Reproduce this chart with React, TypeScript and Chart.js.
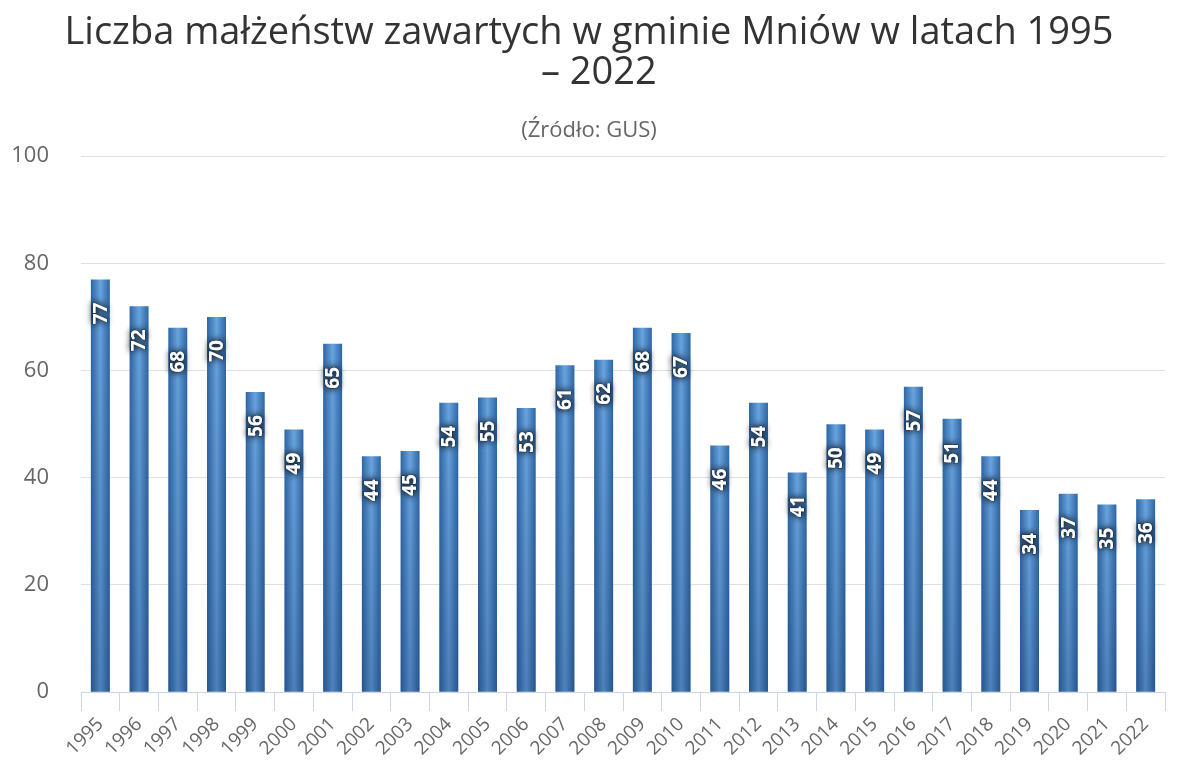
import React, { useEffect, useRef } from 'react';
import { Chart, registerables } from 'chart.js';

Chart.register(...registerables);

const years = ['1995', '1996', '1997', '1998', '1999', '2000', '2001', '2002', '2003', '2004', '2005', '2006', '2007', '2008', '2009', '2010', '2011', '2012', '2013', '2014', '2015', '2016', '2017', '2018', '2019', '2020', '2021', '2022'];
const marriages = [77, 72, 68, 70, 56, 49, 65, 44, 45, 54, 55, 53, 61, 62, 68, 67, 46, 54, 41, 50, 49, 57, 51, 44, 34, 37, 35, 36];
const yTickValues = [0, 20, 40, 60, 80, 100];
const titleLines = ['Liczba małżeństw zawartych w gminie Mniów w latach 1995', '\u00a0\u00a0– 2022'];
const subtitleText = '(Źródło: GUS)';

const FONT = "'Open Sans', 'DejaVu Sans', sans-serif";
const BAR_PCT = 0.49;

const barEffects = {
  id: 'barEffects',
  afterDatasetsDraw(chart: any) {
    const ctx = chart.ctx;
    const meta = chart.getDatasetMeta(0);
    const ds = chart.data.datasets[0];
    meta.data.forEach((el: any, i: number) => {
      const { x, y, base, width } = el.getProps(['x', 'y', 'base', 'width'], true);
      const left = x - width / 2;
      const g = ctx.createLinearGradient(0, y, 0, base);
      g.addColorStop(0, 'rgba(10,40,90,0.0)');
      g.addColorStop(1, 'rgba(10,40,90,0.28)');
      ctx.save();
      ctx.fillStyle = g;
      ctx.fillRect(left, y, width, base - y);
      ctx.restore();
      const v = String(ds.data[i]);
      ctx.save();
      ctx.translate(x, y + 34);
      ctx.rotate(-Math.PI / 2);
      ctx.font = `bold 19px ${FONT}`;
      ctx.textAlign = 'center';
      ctx.textBaseline = 'middle';
      ctx.shadowColor = 'rgba(0,0,0,0.85)';
      ctx.shadowBlur = 7;
      ctx.fillStyle = '#ffffff';
      ctx.fillText(v, 0, 1);
      ctx.fillText(v, 0, 1);
      ctx.shadowBlur = 0;
      ctx.lineWidth = 1.2;
      ctx.strokeStyle = 'rgba(20,40,70,0.6)';
      ctx.strokeText(v, 0, 1);
      ctx.fillText(v, 0, 1);
      ctx.restore();
    });
  },
};

export default function App() {
  const ref = useRef<HTMLCanvasElement>(null);
  useEffect(() => {
    document.body.style.margin = '0';
    const canvas = ref.current!;
    const chart = new Chart(canvas, {
      type: 'bar',
      data: {
        labels: years,
        datasets: [
          {
            data: marriages,
            barPercentage: BAR_PCT,
            categoryPercentage: 1,
            backgroundColor: (c: any) => {
              const ch = c.chart;
              const xs = ch.scales && ch.scales.x;
              if (!ch.chartArea || !xs || c.dataIndex === undefined) return '#3f7cbf';
              const cx = xs.getPixelForValue(c.dataIndex);
              const half = (xs.width / years.length) * BAR_PCT / 2;
              const g = ch.ctx.createLinearGradient(cx - half, 0, cx + half, 0);
              g.addColorStop(0, '#2d66a5');
              g.addColorStop(0.5, '#6aa4de');
              g.addColorStop(1, '#2d66a5');
              return g;
            },
            borderWidth: 0,
          },
        ],
      },
      options: {
        animation: false,
        responsive: false,
        maintainAspectRatio: false,
        layout: { padding: { left: 13, right: 15, top: 0, bottom: 0 } },
        plugins: {
          legend: { display: false },
          tooltip: { enabled: false },
          title: {
            display: true,
            text: titleLines,
            color: '#333333',
            font: { family: FONT, size: 38, weight: 'normal', lineHeight: 1.05 },
            padding: { top: 13, bottom: 25 },
          },
          subtitle: {
            display: true,
            text: subtitleText,
            color: '#666666',
            font: { family: FONT, size: 22, weight: 'normal' },
            padding: { top: 0, bottom: 12 },
          },
        },
        scales: {
          x: {
            offset: true,
            grid: {
              display: true,
              offset: true,
              drawOnChartArea: false,
              color: '#ccd6eb',
              tickLength: 19,
              tickColor: '#ccd6eb',
            },
            border: { display: true, color: '#ccd6eb', width: 1 },
            ticks: {
              color: '#666666',
              font: { family: FONT, size: 19 },
              maxRotation: 45,
              minRotation: 45,
              autoSkip: false,
              padding: 2,
            },
          },
          y: {
            min: 0,
            max: 100,
            afterBuildTicks: (axis: any) => {
              axis.ticks = yTickValues.map((v) => ({ value: v }));
            },
            afterFit: (axis: any) => {
              axis.width = 68;
            },
            grid: { color: '#e0e0e0', drawTicks: false },
            border: { display: false },
            ticks: {
              color: '#666666',
              font: { family: FONT, size: 22 },
              padding: 32,
            },
          },
        },
      },
      plugins: [barEffects],
    });
    return () => chart.destroy();
  }, []);
  return <canvas ref={ref} width={1180} height={762} style={{ display: 'block' }} />;
}
